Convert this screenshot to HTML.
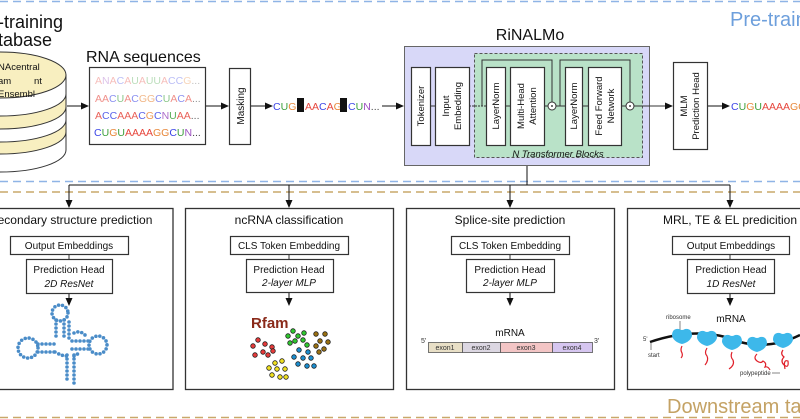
<!DOCTYPE html>
<html><head><meta charset="utf-8"><style>
body{margin:0;background:#fff}
svg{display:block;font-family:"Liberation Sans",sans-serif}
.a{fill:#e6463c}.c{fill:#3c46e6}.g{fill:#e8883a}.u{fill:#3ca03c}.n{fill:#9c50c0}.k{fill:#444}
.b{fill:#fff;stroke:#333;stroke-width:1.2}
.t{font-size:12px;fill:#111;text-anchor:middle}
.s{font-size:10px;fill:#111;text-anchor:middle}
.v{font-size:9.5px;fill:#111;text-anchor:middle}
</style></head><body>
<svg width="800" height="419" viewBox="0 0 800 419" xmlns="http://www.w3.org/2000/svg">
<defs><marker id="ar" markerWidth="8" markerHeight="8" refX="7" refY="4" orient="auto" markerUnits="userSpaceOnUse"><path d="M0,0.5 L8,4 L0,7.5z" fill="#111"/></marker></defs>
<line x1="0" y1="1.5" x2="800" y2="1.5" stroke="#8fb4e6" stroke-width="1.5" stroke-dasharray="8,5"/>
<line x1="0" y1="181.5" x2="800" y2="181.5" stroke="#8fb4e6" stroke-width="1.5" stroke-dasharray="8,5"/>
<line x1="0" y1="192" x2="800" y2="192" stroke="#c9a86a" stroke-width="1.5" stroke-dasharray="8,5"/>
<line x1="0" y1="417.5" x2="800" y2="417.5" stroke="#c9a86a" stroke-width="1.5" stroke-dasharray="8,5"/>
<text x="730" y="26" font-size="20" fill="#6d9fdc">Pre-train</text>
<text x="667" y="413" font-size="20" fill="#c4a264">Downstream ta</text>
<text x="-2" y="28" font-size="18" fill="#111">-training</text>
<text x="-2" y="46" font-size="18" fill="#111">tabase</text>
<path d="M-66,130 L-66,150 A66,22 0 0 0 66,150 L66,130z" fill="#fff" stroke="#333"/>
<path d="M-66,118 L-66,132 A66,22 0 0 0 66,132 L66,118z" fill="#f8efc0" stroke="#333"/>
<path d="M-66,105 L-66,120 A66,22 0 0 0 66,120 L66,105z" fill="#fff" stroke="#333"/>
<path d="M-66,92 L-66,107 A66,22 0 0 0 66,107 L66,92z" fill="#f8efc0" stroke="#333"/>
<path d="M-66,75 L-66,94 A66,22 0 0 0 66,94 L66,75z" fill="#fff" stroke="#333"/>
<ellipse cx="0" cy="75" rx="66" ry="23" fill="#f8efc0" stroke="#333"/>
<text x="-2" y="70" font-size="9.5" fill="#111">NAcentral</text>
<text x="-2" y="84" font-size="9.5" fill="#111">am</text><text x="34" y="84" font-size="9.5" fill="#111">nt</text>
<text x="-2" y="97" font-size="9.5" fill="#111">Ensembl</text>
<line x1="67" y1="106" x2="88" y2="106" stroke="#111" marker-end="url(#ar)"/>
<text x="86" y="62" font-size="16" fill="#111">RNA sequences</text>
<rect x="89.5" y="67.5" width="116" height="77" class="b"/>
<g font-size="10.5">
<text x="95" y="84" opacity="0.35"><tspan class="a">A</tspan><tspan class="n">N</tspan><tspan class="a">A</tspan><tspan class="c">C</tspan><tspan class="a">A</tspan><tspan class="u">U</tspan><tspan class="a">A</tspan><tspan class="u">UU</tspan><tspan class="a">A</tspan><tspan class="c">CC</tspan><tspan class="g">G</tspan><tspan class="k">...</tspan></text>
<text x="95" y="102" opacity="0.6"><tspan class="a">AA</tspan><tspan class="c">C</tspan><tspan class="u">U</tspan><tspan class="a">A</tspan><tspan class="c">C</tspan><tspan class="g">GG</tspan><tspan class="c">C</tspan><tspan class="u">U</tspan><tspan class="a">A</tspan><tspan class="c">C</tspan><tspan class="a">A</tspan><tspan class="k">...</tspan></text>
<text x="95" y="119" opacity="0.85"><tspan class="a">A</tspan><tspan class="c">CC</tspan><tspan class="a">AAA</tspan><tspan class="c">C</tspan><tspan class="g">G</tspan><tspan class="c">C</tspan><tspan class="n">N</tspan><tspan class="u">U</tspan><tspan class="a">AA</tspan><tspan class="k">...</tspan></text>
<text x="94" y="136"><tspan class="c">C</tspan><tspan class="u">U</tspan><tspan class="g">G</tspan><tspan class="u">U</tspan><tspan class="a">AAAA</tspan><tspan class="g">GG</tspan><tspan class="c">C</tspan><tspan class="u">U</tspan><tspan class="n">N</tspan><tspan class="k">...</tspan></text>
</g>
<line x1="206" y1="106" x2="228" y2="106" stroke="#111" marker-end="url(#ar)"/>
<rect x="229.5" y="68.5" width="21" height="76" class="b"/>
<text transform="translate(244,106) rotate(-90)" class="s">Masking</text>
<line x1="251" y1="106" x2="272" y2="106" stroke="#111" marker-end="url(#ar)"/>
<g font-size="10.5">
<text x="273" y="110"><tspan class="c">C</tspan><tspan class="u">U</tspan><tspan class="g">G</tspan></text>
<rect x="297" y="98" width="7" height="14" fill="#111"/>
<text x="305" y="110"><tspan class="a">AA</tspan><tspan class="c">C</tspan><tspan class="a">A</tspan><tspan class="g">G</tspan></text>
<rect x="340" y="98" width="7" height="14" fill="#111"/>
<text x="348" y="110"><tspan class="c">C</tspan><tspan class="u">U</tspan><tspan class="n">N</tspan><tspan class="k">...</tspan></text>
</g>
<line x1="382" y1="106" x2="403" y2="106" stroke="#111" marker-end="url(#ar)"/>
<text x="530" y="40" font-size="16" fill="#111" text-anchor="middle">RiNALMo</text>
<rect x="404.5" y="46.5" width="245" height="119" fill="#d8d8f8" stroke="#666"/>
<rect x="474.5" y="53.5" width="168" height="104" fill="#b9e2c8" stroke="#555" stroke-dasharray="3,2"/>
<line x1="430" y1="106" x2="435" y2="106" stroke="#333"/>
<line x1="469" y1="106" x2="486" y2="106" stroke="#333" stroke-dasharray="2,1"/>
<path d="M482,106 V60 H552 V102" fill="none" stroke="#333"/>
<path d="M560,106 V60 H630 V102" fill="none" stroke="#333"/>
<line x1="544" y1="106" x2="565" y2="106" stroke="#333"/>
<line x1="582" y1="106" x2="588" y2="106" stroke="#333"/>
<line x1="621" y1="106" x2="626" y2="106" stroke="#333"/>
<line x1="505" y1="106" x2="510" y2="106" stroke="#333"/>
<rect x="411.5" y="67.5" width="19" height="78" class="b"/>
<rect x="435.5" y="67.5" width="34" height="78" class="b"/>
<rect x="486.5" y="67.5" width="19" height="78" class="b"/>
<rect x="510.5" y="67.5" width="34" height="78" class="b"/>
<rect x="565.5" y="67.5" width="17" height="78" class="b"/>
<rect x="588.5" y="67.5" width="33" height="78" class="b"/>
<circle cx="552" cy="106" r="4" fill="#fff" stroke="#333"/><circle cx="552" cy="106" r="0.9" fill="#111"/>
<circle cx="630" cy="106" r="4" fill="#fff" stroke="#333"/><circle cx="630" cy="106" r="0.9" fill="#111"/>
<text transform="translate(424,106) rotate(-90)" class="v">Tokenizer</text>
<text transform="translate(449,106) rotate(-90)" class="v">Input</text>
<text transform="translate(461,106) rotate(-90)" class="v">Embedding</text>
<text transform="translate(499,106) rotate(-90)" class="v">LayerNorm</text>
<text transform="translate(524,106) rotate(-90)" class="v">Multi-Head</text>
<text transform="translate(536,106) rotate(-90)" class="v">Attention</text>
<text transform="translate(577,106) rotate(-90)" class="v">LayerNorm</text>
<text transform="translate(602,106) rotate(-90)" class="v">Feed Forward</text>
<text transform="translate(614,106) rotate(-90)" class="v">Network</text>
<text x="558" y="157" font-size="9.5" font-style="italic" text-anchor="middle" fill="#111">N Transformer Blocks</text>
<line x1="634" y1="106" x2="672" y2="106" stroke="#333" marker-end="url(#ar)"/>
<rect x="673.5" y="62.5" width="34" height="87" class="b"/>
<text transform="translate(687,106) rotate(-90)" class="v">MLM</text>
<text transform="translate(699,106) rotate(-90)" class="v">Prediction Head</text>
<line x1="708" y1="106" x2="729" y2="106" stroke="#111" marker-end="url(#ar)"/>
<text x="731" y="110" font-size="10.5"><tspan class="c">C</tspan><tspan class="u">U</tspan><tspan class="g">G</tspan><tspan class="u">U</tspan><tspan class="a">AAAA</tspan><tspan class="g">GC</tspan></text>
<path d="M527,166 V185 H69 M527,185 H730" fill="none" stroke="#111"/>
<line x1="69" y1="185" x2="69" y2="207" stroke="#111" marker-end="url(#ar)"/>
<line x1="289" y1="185" x2="289" y2="207" stroke="#111" marker-end="url(#ar)"/>
<line x1="510" y1="185" x2="510" y2="207" stroke="#111" marker-end="url(#ar)"/>
<line x1="730" y1="185" x2="730" y2="207" stroke="#111" marker-end="url(#ar)"/>
<rect x="-5" y="208.5" width="178" height="181" fill="#fff" stroke="#333" stroke-width="1.3"/>
<rect x="185.5" y="208.5" width="208" height="181" fill="#fff" stroke="#333" stroke-width="1.3"/>
<rect x="406.5" y="208.5" width="208" height="181" fill="#fff" stroke="#333" stroke-width="1.3"/>
<rect x="627.5" y="208.5" width="180" height="181" fill="#fff" stroke="#333" stroke-width="1.3"/>
<text x="75" y="224" class="t">econdary structure prediction</text>
<text x="289" y="224" class="t">ncRNA classification</text>
<text x="510" y="224" class="t">Splice-site prediction</text>
<text x="730" y="224" class="t">MRL, TE &amp; EL predicition</text>
<g>
<line x1="69" y1="254" x2="69" y2="259" stroke="#333"/><line x1="69" y1="293" x2="69" y2="305" stroke="#111" marker-end="url(#ar)"/>
<rect x="10.5" y="236.5" width="118" height="18" class="b"/><text x="69" y="249" class="s">Output Embeddings</text>
<rect x="26.5" y="259.5" width="86" height="34" class="b"/><text x="69" y="273" class="s">Prediction Head</text><text x="69" y="287" class="s" font-style="italic">2D ResNet</text>
<line x1="289" y1="254" x2="289" y2="259" stroke="#333"/><line x1="289" y1="292" x2="289" y2="305" stroke="#111" marker-end="url(#ar)"/>
<rect x="230.5" y="236.5" width="118" height="18" class="b"/><text x="289" y="249" class="s">CLS Token Embedding</text>
<rect x="246.5" y="259.5" width="87" height="33" class="b"/><text x="289" y="273" class="s">Prediction Head</text><text x="289" y="286" class="s" font-style="italic">2-layer MLP</text>
<line x1="510" y1="254" x2="510" y2="259" stroke="#333"/><line x1="510" y1="292" x2="510" y2="305" stroke="#111" marker-end="url(#ar)"/>
<rect x="451.5" y="236.5" width="118" height="18" class="b"/><text x="510" y="249" class="s">CLS Token Embedding</text>
<rect x="466.5" y="259.5" width="88" height="33" class="b"/><text x="510" y="273" class="s">Prediction Head</text><text x="510" y="286" class="s" font-style="italic">2-layer MLP</text>
<line x1="730" y1="254" x2="730" y2="259" stroke="#333"/><line x1="730" y1="293" x2="730" y2="305" stroke="#111" marker-end="url(#ar)"/>
<rect x="672.5" y="236.5" width="117" height="18" class="b"/><text x="731" y="249" class="s">Output Embeddings</text>
<rect x="687.5" y="259.5" width="87" height="34" class="b"/><text x="731" y="273" class="s">Prediction Head</text><text x="731" y="287" class="s" font-style="italic">1D ResNet</text>
</g>
<g fill="none" stroke="#4a8cc8" stroke-width="3.6" stroke-linecap="round" stroke-dasharray="0 4">
<circle cx="60" cy="313" r="8"/>
<path d="M56,320 V340 M64,320 V340 M69,322 V340"/>
<circle cx="28" cy="348" r="10"/>
<path d="M38,344 H55 M38,352 H55"/>
<circle cx="98" cy="345" r="9"/>
<path d="M72,341 H89 M72,349 H89 M74,333 Q80,330 85,335"/>
<path d="M67,355 V383 M74,355 V385"/>
<path d="M55,352 Q62,356 67,356 M74,356 Q78,354 80,352"/>
</g>
<text x="251" y="328" font-size="15" font-weight="bold" fill="#8a2a1a">Rfam</text>
<g stroke="#222" stroke-width="0.8">
<g fill="#e63a3a"><circle cx="258" cy="340" r="2.3"/><circle cx="265" cy="344" r="2.3"/><circle cx="253" cy="346" r="2.3"/><circle cx="263" cy="352" r="2.3"/><circle cx="272" cy="347" r="2.3"/><circle cx="255" cy="355" r="2.3"/><circle cx="268" cy="355" r="2.3"/><circle cx="273" cy="351" r="2.3"/></g>
<g fill="#2ec82e"><circle cx="293" cy="331" r="2.3"/><circle cx="288" cy="336" r="2.3"/><circle cx="298" cy="336" r="2.3"/><circle cx="304" cy="333" r="2.3"/><circle cx="295" cy="341" r="2.3"/><circle cx="303" cy="340" r="2.3"/><circle cx="290" cy="343" r="2.3"/><circle cx="307" cy="345" r="2.3"/></g>
<g fill="#9a7010"><circle cx="316" cy="334" r="2.3"/><circle cx="325" cy="334" r="2.3"/><circle cx="320" cy="341" r="2.3"/><circle cx="328" cy="342" r="2.3"/><circle cx="316" cy="346" r="2.3"/><circle cx="324" cy="349" r="2.3"/><circle cx="319" cy="352" r="2.3"/></g>
<g fill="#1a8ed0"><circle cx="299" cy="350" r="2.3"/><circle cx="308" cy="352" r="2.3"/><circle cx="294" cy="357" r="2.3"/><circle cx="303" cy="358" r="2.3"/><circle cx="311" cy="358" r="2.3"/><circle cx="298" cy="364" r="2.3"/><circle cx="307" cy="366" r="2.3"/><circle cx="314" cy="366" r="2.3"/></g>
<g fill="#f0e020"><circle cx="275" cy="363" r="2.3"/><circle cx="282" cy="361" r="2.3"/><circle cx="269" cy="368" r="2.3"/><circle cx="277" cy="369" r="2.3"/><circle cx="285" cy="369" r="2.3"/><circle cx="272" cy="375" r="2.3"/><circle cx="280" cy="377" r="2.3"/><circle cx="286" cy="377" r="2.3"/></g>
</g>
<text x="510" y="336" class="s" font-size="11">mRNA</text>
<text x="421" y="343" font-size="7" fill="#333">5'</text><text x="594" y="343" font-size="7" fill="#333">3'</text>
<g stroke="#555" stroke-width="0.8">
<rect x="428.5" y="342.5" width="34" height="10" fill="#e8dfc6"/>
<rect x="462.5" y="342.5" width="38" height="10" fill="#dcd7e2"/>
<rect x="500.5" y="342.5" width="52" height="10" fill="#f3c5c5"/>
<rect x="552.5" y="342.5" width="40" height="10" fill="#d6c6f0"/>
</g>
<g font-size="7" fill="#333" text-anchor="middle"><text x="445" y="350">exon1</text><text x="481" y="350">exon2</text><text x="526" y="350">exon3</text><text x="572" y="350">exon4</text></g>
<text x="731" y="322" class="s" font-size="11">mRNA</text>
<text x="666" y="319" font-size="6" fill="#333">ribosome</text>
<line x1="680" y1="321" x2="680" y2="331" stroke="#333" stroke-width="0.6"/>
<text x="643" y="341" font-size="6" fill="#333">5'</text>
<text x="648" y="357" font-size="6" fill="#333">start</text>
<line x1="651" y1="350" x2="651" y2="343" stroke="#333" stroke-width="0.6"/>
<path d="M650,342 Q700,325 740,342 Q770,350 800,335" fill="none" stroke="#111" stroke-width="2.5"/>
<g fill="#3db8ea">
<path d="M672,336 q0,-8 7,-7 q3,2 6,0 q7,-1 7,7 q-2,6 -10,8 q-8,-2 -10,-8z"/>
<path d="M697,338 q0,-8 7,-7 q3,2 6,0 q7,-1 7,7 q-2,6 -10,8 q-8,-2 -10,-8z"/>
<path d="M722,342 q0,-8 7,-7 q3,2 6,0 q7,-1 7,7 q-2,6 -10,8 q-8,-2 -10,-8z"/>
<path d="M747,344 q0,-8 7,-7 q3,2 6,0 q7,-1 7,7 q-2,6 -10,8 q-8,-2 -10,-8z"/>
<path d="M773,340 q0,-8 7,-7 q3,2 6,0 q7,-1 7,7 q-2,6 -10,8 q-8,-2 -10,-8z"/>
</g>
<g fill="none" stroke="#e0202a" stroke-width="1.2">
<path d="M682,346 q-2,4 0,7 q1,3 -1,5"/>
<path d="M707,348 q-3,5 0,8 q2,4 -2,9"/>
<path d="M732,352 q-2,5 1,8 q2,5 -4,9"/>
<path d="M757,354 q-4,4 0,7 q4,3 6,0 q4,2 2,6 q3,-1 5,3"/>
<path d="M783,350 q-3,4 1,7 q-4,4 0,8 q5,4 4,-4 q-5,-2 -3,8"/>
</g>
<text x="740" y="375" font-size="6" fill="#333">polypeptide</text>
<line x1="772" y1="373" x2="780" y2="373" stroke="#333" stroke-width="0.6"/>
</svg>
</body></html>
